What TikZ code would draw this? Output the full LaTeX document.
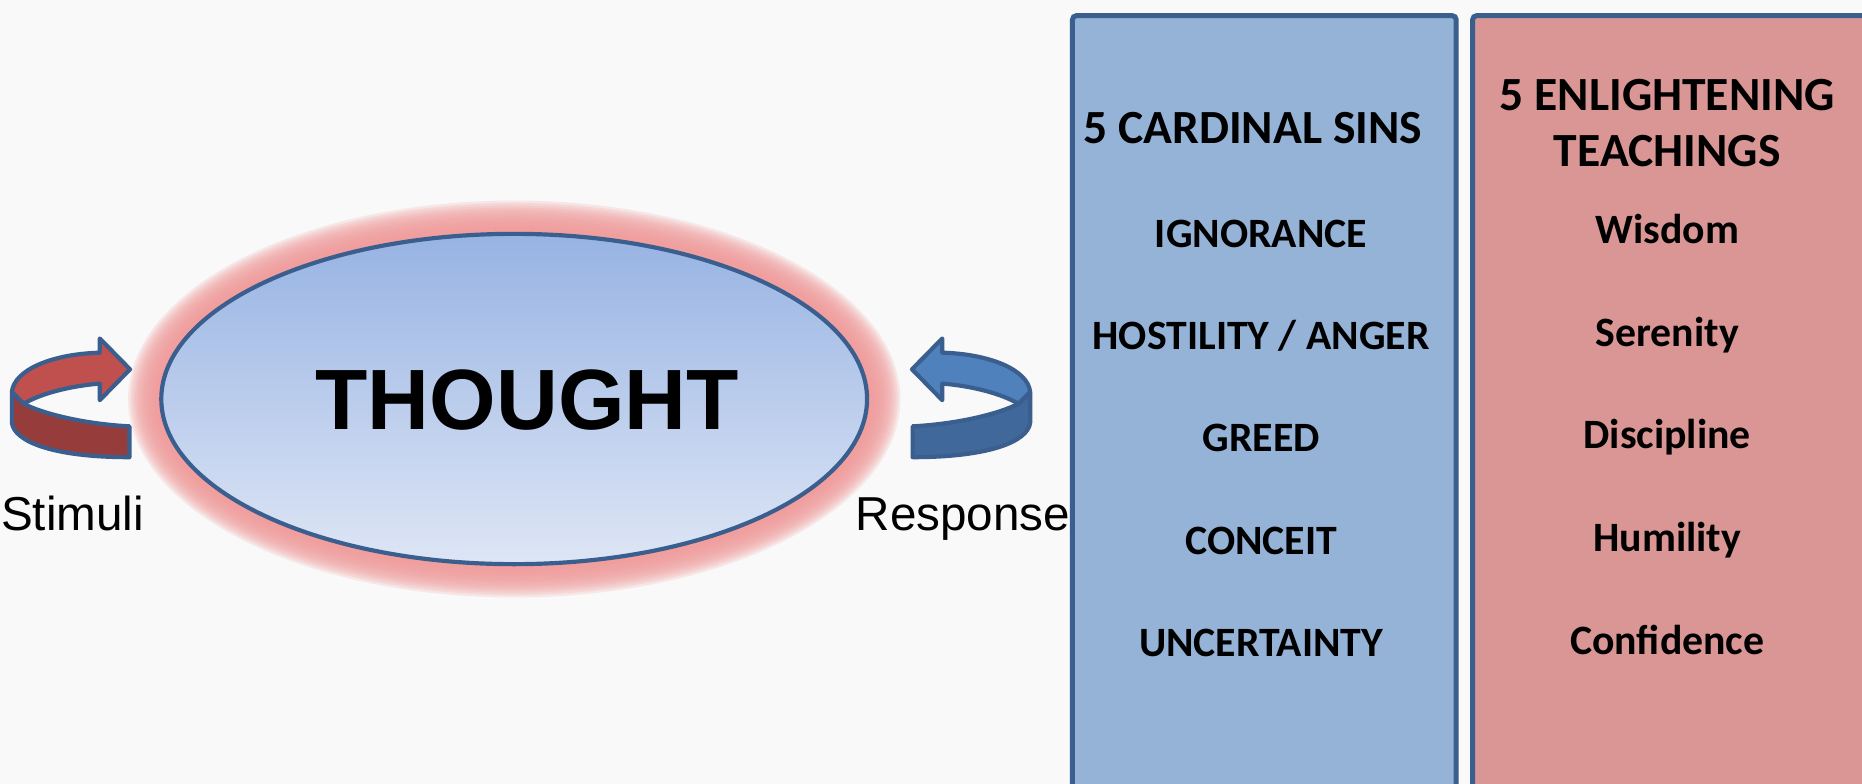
\documentclass[tikz,border=0pt]{standalone}
\usepackage{fontspec}
\setmainfont{Carlito}
\newfontfamily\arialfont{Liberation Sans}
\usetikzlibrary{shapes.geometric,positioning}
\definecolor{bgcol}{HTML}{F9F9F9}
\definecolor{edgeblue}{HTML}{3A5F8E}
\definecolor{sinsfill}{HTML}{95B3D7}
\definecolor{teachfill}{HTML}{D99694}
\definecolor{glowpink}{HTML}{F09A9A}
\definecolor{redtop}{HTML}{C0504D}
\definecolor{reddark}{HTML}{963D3B}
\definecolor{bluetop}{HTML}{4F81BD}
\definecolor{bluedark}{HTML}{41689A}
\definecolor{ovaltop}{HTML}{97B3E3}
\definecolor{ovalbot}{HTML}{DEE6F5}
\tikzset{
    %Define style for the oval
    oval/.style={
        ellipse,
        draw=edgeblue, line width=1pt,
        top color=ovaltop, bottom color=ovalbot,
        minimum width=5.94cm,
        minimum height=2.78cm,
        inner sep=0pt},
    %Define style for the two columns
    column/.style={
        rectangle,
        rounded corners=1pt,
        draw=edgeblue, line width=1.2pt,
        minimum width=3.23cm,
        minimum height=7cm,
        anchor=north west,
        inner sep=0pt},
    % texts
    headtext/.style={font=\fontsize{11.4}{13.4}\selectfont\bfseries, align=center, anchor=base},
    itemtext/.style={font=\fontsize{10}{12}\selectfont\bfseries, anchor=base},
    sidetext/.style={font=\arialfont\fontsize{11.4}{13}\selectfont, anchor=base},
    % Define style for the turning arrows
    ribbon/.style={
        draw=edgeblue,
        line width=1pt,
        line join=round}
}
% a turning arrow, light top and dark underside
\newcommand{\turnarrow}[2]{%
  \draw[ribbon, fill=#2] (10,330) -- (10,356) .. controls (12,372) and (45,385) .. (109,385)
      -- (109,359) .. controls (70,357) and (35,348) .. (20,340) -- cycle;
  \draw[ribbon, fill=#1] (10,330) .. controls (12,311) and (45,298) .. (84,297)
      -- (84,285) -- (109.5,311) -- (84,337) -- (84,323) .. controls (60,325) and (35,331) .. (20,340) -- cycle;
}

\begin{document}
\begin{tikzpicture}[x=0.01cm, y=-0.01cm]
    \fill[bgcol] (0,0) rectangle (1568,660);
    \useasboundingbox (0,0) rectangle (1568,660);
    % soft glow round the oval
    \foreach \g in {28,26,...,2}
        \fill[glowpink, opacity=0.2] (433,336) ellipse [x radius={2.97cm+\g*0.01cm}, y radius={1.39cm+\g*0.01cm}];
    %nodes
    \node[oval] (thought) at (433,336) {};
    \node[font=\arialfont\fontsize{20.5}{24}\selectfont\bfseries] (thoughtword) at (444,337) {THOUGHT};
    \node[sidetext] (stimuli) at (61,447) {Stimuli};
    \node[sidetext] (response) at (811,447) {Response};
    % arrows in and out
    \turnarrow{redtop}{reddark}
    \begin{scope}[xshift=8.77cm, xscale=-1]
        \turnarrow{bluetop}{bluedark}
    \end{scope}
    % the two columns
    \node[column, fill=sinsfill] (sinsbox) at (901,11) {};
    \node[column, fill=teachfill, minimum width=3.45cm] (teachbox) at (1238,11) {};
    \node[headtext] (sinshead) at (1055,121) {5 CARDINAL SINS};
    \node[headtext] (teachhead) at (1404,140) {5 ENLIGHTENING\\TEACHINGS};
    \foreach \txt [count=\i] in {IGNORANCE, HOSTILITY / ANGER, GREED, CONCEIT, UNCERTAINTY}
        \node[itemtext] (sin\i) at (1062,{208+86.3*(\i-1)}) {\txt};
    \foreach \txt [count=\i] in {Wisdom, Serenity, Discipline, Humility, Confidence}
        \node[itemtext] (teach\i) at (1404,{205+86.5*(\i-1)}) {\txt};
\end{tikzpicture}
\end{document}
